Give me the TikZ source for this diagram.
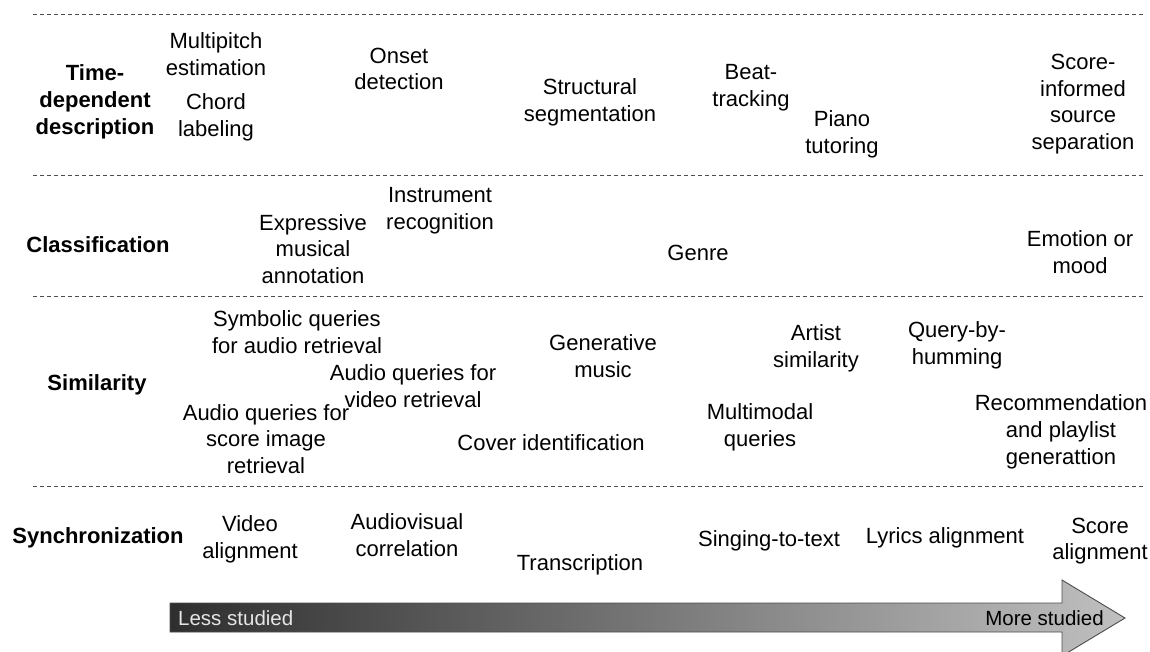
\documentclass[tikz,border=0pt]{standalone}
\usepackage{fontspec}
\setmainfont{Liberation Sans}
\pgfdeclarehorizontalshading{studied}{100bp}{color(0bp)=(black); color(9bp)=(black); color(88bp)=(white!90!black); color(100bp)=(white!98!black)}
\begin{document}
\begin{tikzpicture}[x=1pt,y=-1pt,
  lbl/.style={align=center, inner sep=0pt, text=black, font=\fontsize{22}{26.7}\selectfont},
  hdr/.style={lbl, font=\bfseries\fontsize{22}{26.7}\selectfont},
  sep/.style={line width=1pt, black!70, dash pattern=on 4pt off 3pt},
  arrowtext/.style={inner sep=0pt, font=\fontsize{20.5}{24}\selectfont}]
\useasboundingbox (0,0) rectangle (1150,651);
% separators
\coordinate (s1a) at (33,14);  \coordinate (s1b) at (1145,14);
\coordinate (s2a) at (33,175); \coordinate (s2b) at (1145,175);
\coordinate (s3a) at (33,296); \coordinate (s3b) at (1145,296);
\coordinate (s4a) at (33,486); \coordinate (s4b) at (1145,486);
\draw[sep] (s1a) -- (s1b);
\draw[sep] (s2a) -- (s2b);
\draw[sep] (s3a) -- (s3b);
\draw[sep] (s4a) -- (s4b);
% row 1
\node[hdr] (h1) at (95,102) {Time-\\dependent\\description};
\node[lbl] (mp) at (216,54) {Multipitch\\estimation};
\node[lbl] (ch) at (216,117.5) {Chord\\labeling};
\node[lbl] (on) at (399,69) {Onset\\detection};
\node[lbl] (ss) at (590,102.5) {Structural\\segmentation};
\node[lbl] (bt) at (751,87.5) {Beat-\\tracking};
\node[lbl] (pt) at (842,134.5) {Piano\\tutoring};
\node[lbl] (sc) at (1083,104) {Score-\\informed\\source\\separation};
% row 2
\node[hdr] (h2) at (98,245) {Classification};
\node[lbl] (ir) at (440,210.5) {Instrument\\recognition};
\node[lbl] (ex) at (313,249) {Expressive\\musical\\annotation};
\node[lbl] (ge) at (698,253) {Genre};
\node[lbl] (em) at (1080,252) {Emotion or\\mood};
% row 3
\node[hdr] (h3) at (97,385) {Similarity};
\node[lbl] (sq) at (297,332) {Symbolic queries\\for audio retrieval};
\node[lbl] (av) at (413,386) {Audio queries for\\video retrieval};
\node[lbl] (as) at (266,439) {Audio queries for\\score image\\retrieval};
\node[lbl] (gm) at (603,356) {Generative\\music};
\node[lbl] (ci) at (551,443) {Cover identification};
\node[lbl] (mm) at (760,427) {Multimodal\\queries};
\node[lbl] (ar) at (816,348) {Artist\\similarity};
\node[lbl] (qh) at (957,345) {Query-by-\\humming};
\node[lbl] (rp) at (1061,432) {Recommendation\\and playlist\\generattion};
% row 4
\node[hdr] (h4) at (98,538) {Synchronization};
\node[lbl] (va) at (250,539) {Video\\alignment};
\node[lbl] (ac) at (407,535) {Audiovisual\\correlation};
\node[lbl] (tr) at (580,565) {Transcription};
\node[lbl] (st) at (769,541) {Singing-to-text};
\node[lbl] (la) at (945,538) {Lyrics alignment};
\node[lbl] (sa) at (1100,541) {Score\\alignment};
% arrow
\shade[shading=studied, draw=black!70, line width=0.9pt]
  (170,603) -- (1062,603) -- (1062,580) -- (1125,618) -- (1062,656) -- (1062,632) -- (170,632) -- cycle;
\node[arrowtext, anchor=west, text=white!90!black] (less) at (178,618) {Less studied};
\node[arrowtext, anchor=east, text=black] (more) at (1104,618) {More studied};
\end{tikzpicture}
\end{document}
